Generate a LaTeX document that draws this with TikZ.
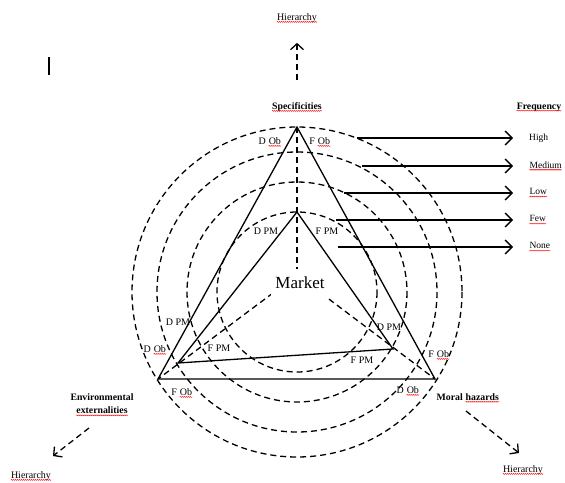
\documentclass[tikz,border=0pt]{standalone}
\usepackage{fontspec}
\setmainfont{Liberation Serif}
\usetikzlibrary{arrows.meta,decorations.pathmorphing}

% rode kronkellijn onder een woord
\newcommand{\sq}[1]{\tikz[baseline=(w.base)]{\node[inner sep=0pt] (w) {#1};
    \draw[red, line width=0.4pt, decorate, decoration={snake, amplitude=0.5pt, segment length=2pt}]
        ([yshift=-1.6pt]w.base west) -- ([yshift=-1.6pt]w.base east);}}

\begin{document}
\begin{tikzpicture}[x=1pt, y=-1pt,
        lbl/.style={font=\fontsize{10}{11}\selectfont, inner sep=1pt},
        bold/.style={font=\fontsize{9.8}{13}\selectfont\bfseries, inner sep=1pt},
        ring/.style={line width=1.3pt, dash pattern=on 6pt off 4pt},
        side/.style={line width=1.3pt},
        freq/.style={line width=1.3pt, -{Straight Barb[length=7pt,width=14pt,line width=1.3pt]}},
        hier/.style={ring, -{Straight Barb[length=6pt,width=13pt,line width=1.3pt]}}]
                \useasboundingbox (0,0) rectangle (565,482);

                \coordinate (ctr) at (297,292);
                \coordinate (mc) at (297,275);
                \coordinate (top) at (297,127);
                \coordinate (left) at (158,379);
                \coordinate (right) at (435,379);
                \coordinate (itop) at (297,212);
                \coordinate (ileft) at (178,363);
                \coordinate (iright) at (393,349);

                % cirkels
                \foreach \r in {165,140,110,80}
                    \draw[ring] (ctr) circle[radius=\r];

                \draw[ring] (top) -- (mc);
                \draw[ring] (mc) -- (left);
                \draw[ring] (mc) -- (right);

                % driehoeken
                \draw[side] (top) -- (left) -- (right) -- cycle;
                \draw[side] (itop) -- (ileft) -- (iright) -- cycle;

                \node[fill=white, minimum width=58pt, minimum height=28pt,
                      font=\fontsize{17}{20}\selectfont] (market) at (300,283) {Market};

                \draw[line width=1.2pt] (49,57) -- (49,75);

                \node[lbl] (hiertop) at (297,18) {\sq{Hierarchy}};
                \node[bold] (spec) at (297,107) {\sq{Specificities}};
                \node[bold] (freqlbl) at (539,107) {\sq{Frequency}};
                \node[bold, align=center] (env) at (102,405) {Environmental\\\sq{externalities}};
                \node[bold] (moral) at (468,398) {Moral \sq{hazards}};
                \node[lbl] (hierbl) at (31,476) {\sq{Hierarchy}};
                \node[lbl] (hierbr) at (523,470) {\sq{Hierarchy}};

                \draw[hier, shorten <=21pt, shorten >=19pt] (spec) -- (hiertop);
                \coordinate (bl1) at (89,428);
                \coordinate (bl2) at (53,456);
                \draw[hier] (bl1) -- (bl2);
                \coordinate (br1) at (466,411);
                \coordinate (br2) at (519,453);
                \draw[hier] (br1) -- (br2);

                % frequentie pijlen
                \foreach \nm/\txt/\sx/\yy in {high/High/357/138, medium/\sq{Medium}/362/166,
                        low/\sq{Low}/344/193, few/\sq{Few}/336/220, none/\sq{None}/338/247} {
                    \node[lbl, anchor=west, font=\fontsize{9.5}{11}\selectfont] (\nm) at (528,\yy) {\txt};
                    \coordinate (\nm a) at (\sx,\yy);
                    \draw[freq, shorten >=15pt] (\nm a) -- (\nm);
                }

                % labels bij de hoeken
                \node[lbl] (dob1) at (270,142) {D \sq{Ob}};
                \node[lbl] (fob1) at (320,142) {F \sq{Ob}};
                \node[lbl] (dpm1) at (266,231) {D PM};
                \node[lbl] (fpm1) at (327,231) {F PM};
                \node[lbl] (dpm2) at (178,322) {D PM};
                \node[lbl] (dob2) at (155,350) {D \sq{Ob}};
                \node[lbl] (fpm2) at (219,348) {F PM};
                \node[lbl] (fob2) at (182,393) {F \sq{Ob}};
                \node[lbl] (dpm3) at (389,327) {D PM};
                \node[lbl] (fpm3) at (362,360) {F PM};
                \node[lbl] (fob3) at (439,355) {F \sq{Ob}};
                \node[lbl] (dob3) at (408,391) {D \sq{Ob}};
\end{tikzpicture}
\end{document}
